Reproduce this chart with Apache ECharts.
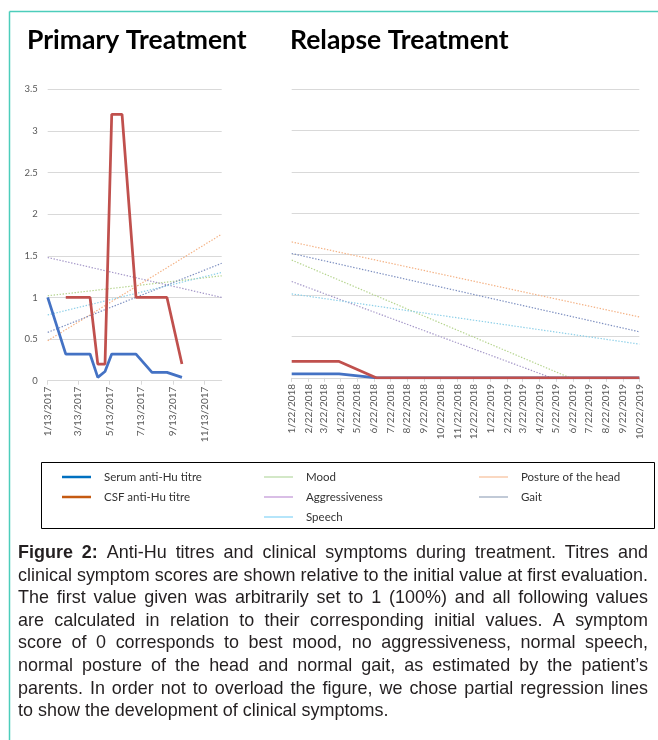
<!DOCTYPE html>
<html>
<head>
<meta charset="utf-8">
<title>Anti-Hu titres and clinical symptoms</title>
<script src="https://cdn.jsdelivr.net/npm/echarts@6/dist/echarts.min.js"></script>
<style>
  html, body { margin: 0; padding: 0; background: #fff; }
  #chart { width: 658px; height: 740px; }
</style>
</head>
<body>
<div id="chart"></div>
<script>
// ---- data ----
var primaryRange = ['1/13/2017', '12/16/2017'];
var primaryTicks = ['1/13/2017', '3/13/2017', '5/13/2017', '7/13/2017', '9/13/2017', '11/13/2017'];
var relapseRange = ['1/22/2018', '10/22/2019'];
var relapseTicks = ['1/22/2018', '2/22/2018', '3/22/2018', '4/22/2018', '5/22/2018', '6/22/2018',
    '7/22/2018', '8/22/2018', '9/22/2018', '10/22/2018', '11/22/2018', '12/22/2018',
    '1/22/2019', '2/22/2019', '3/22/2019', '4/22/2019', '5/22/2019', '6/22/2019',
    '7/22/2019', '8/22/2019', '9/22/2019', '10/22/2019'];

var serumPrimaryDates = ['1/13/2017', '2/17/2017', '4/5/2017', '4/20/2017', '5/4/2017', '5/17/2017', '7/3/2017', '8/3/2017', '9/1/2017', '9/30/2017'];
var serumPrimary = [1, 0.32, 0.32, 0.04, 0.11, 0.32, 0.32, 0.1, 0.1, 0.04];
var csfPrimaryDates = ['2/17/2017', '4/5/2017', '4/20/2017', '5/4/2017', '5/17/2017', '6/6/2017', '7/3/2017', '9/1/2017', '9/30/2017'];
var csfPrimary = [1, 1, 0.2, 0.2, 3.2, 3.2, 1, 1, 0.2];

var serumRelapseDates = ['1/22/2018', '4/19/2018', '6/27/2018', '10/22/2019'];
var serumRelapse = [0.05, 0.05, 0, 0];
var csfRelapseDates = ['1/22/2018', '4/19/2018', '6/27/2018', '10/22/2019'];
var csfRelapse = [0.2, 0.2, 0, 0];

// regression lines: Mood, Aggressiveness, Speech, Posture of the head, Gait
var symptoms = ['Mood', 'Aggressiveness', 'Speech', 'Posture of the head', 'Gait'];
var trendPrimaryStart = [1.02, 1.48, 0.79, 0.48, 0.58];
var trendPrimaryEnd = [1.26, 1.0, 1.3, 1.76, 1.41];
var trendRelapseStart = [1.43, 1.17, 1.02, 1.65, 1.51];
var trendRelapseEnd = [0, 0, 0.41, 0.74, 0.56];
var trendRelapseEndDates = ['6/17/2019', '5/14/2019', '10/22/2019', '10/22/2019', '10/22/2019'];

var yTicks = { min: 0, max: 3.5, interval: 0.5 };

var captionLines = [
    'Figure 2: Anti-Hu titres and clinical symptoms during treatment. Titres and',
    'clinical symptom scores are shown relative to the initial value at first evaluation.',
    'The first value given was arbitrarily set to 1 (100%) and all following values',
    'are calculated in relation to their corresponding initial values. A symptom',
    'score of 0 corresponds to best mood, no aggressiveness, normal speech,',
    'normal posture of the head and normal gait, as estimated by the patient\u2019s',
    'parents. In order not to overload the figure, we chose partial regression lines',
    'to show the development of clinical symptoms.'
];

// ---- styles ----
var titreColors = ['#4472C4', '#C0504D'];
var trendColors = ['#B5D48E', '#A497C8', '#8CCFE8', '#F4B183', '#7D8FC0'];
var legendTitre = ['#0070C0', '#C55A11'];
var legendTrend = ['#C5E0B4', '#CDA9DE', '#9DDCF9', '#F8CBAD', '#ADB9CA'];
var gridColor = '#d9d9d9';
var labelColor = '#595959';

function toDay(s) {
    var p = s.split('/');
    return Date.UTC(+p[2], p[0] - 1, +p[1]) / 864e5;
}
function dayLabel(v) {
    var d = new Date(Math.round(v) * 864e5);
    return (d.getUTCMonth() + 1) + '/' + d.getUTCDate() + '/' + d.getUTCFullYear();
}
function pairs(dates, vals) {
    return dates.map(function (d, i) { return [toDay(d), vals[i]]; });
}

function xAxisFor(idx, range, ticks) {
    var tv = ticks.map(toDay);
    return {
        type: 'value', gridIndex: idx,
        min: toDay(range[0]), max: toDay(range[1]),
        splitLine: { show: false },
        axisLine: { lineStyle: { color: gridColor, width: 1 } },
        axisTick: { customValues: tv, length: 4, lineStyle: { color: gridColor } },
        axisLabel: {
            customValues: tv, rotate: 90, margin: 6,
            fontFamily: 'Lato', fontSize: 10, color: labelColor,
            formatter: dayLabel
        }
    };
}
function yAxisFor(idx, showLabels) {
    return {
        type: 'value', gridIndex: idx,
        min: yTicks.min, max: yTicks.max, interval: yTicks.interval,
        axisLine: { show: false }, axisTick: { show: false },
        splitLine: { lineStyle: { color: gridColor, width: 1 } },
        axisLabel: { show: showLabels, margin: 10, fontFamily: 'Lato', fontSize: 9.5, color: labelColor }
    };
}

var series = [];
function titre(name, idx, data, color) {
    series.push({
        name: name, type: 'line', xAxisIndex: idx, yAxisIndex: idx,
        data: data, symbol: 'none', silent: true, z: 4,
        itemStyle: { color: color },
        lineStyle: { color: color, width: 2.75 }
    });
}
function trend(name, idx, data, color) {
    series.push({
        name: name, type: 'line', xAxisIndex: idx, yAxisIndex: idx,
        data: data, symbol: 'none', silent: true, z: 2,
        itemStyle: { color: color },
        lineStyle: { color: color, width: 1.2, type: [1.4, 1.6] }
    });
}

titre('Serum anti-Hu titre', 0, pairs(serumPrimaryDates, serumPrimary), titreColors[0]);
titre('CSF anti-Hu titre', 0, pairs(csfPrimaryDates, csfPrimary), titreColors[1]);
titre('Serum anti-Hu titre', 1, pairs(serumRelapseDates, serumRelapse), titreColors[0]);
titre('CSF anti-Hu titre', 1, pairs(csfRelapseDates, csfRelapse), titreColors[1]);
symptoms.forEach(function (s, i) {
    trend(s, 0, pairs(primaryRange, [trendPrimaryStart[i], trendPrimaryEnd[i]]), trendColors[i]);
    trend(s, 1, pairs([relapseRange[0], trendRelapseEndDates[i]], [trendRelapseStart[i], trendRelapseEnd[i]]), trendColors[i]);
});

function legendCol(left, names, colors, h) {
    return {
        orient: 'vertical', left: left, top: 465,
        itemWidth: 29, itemHeight: h, itemGap: 6, icon: 'rect',
        selectedMode: false,
        textStyle: { fontFamily: 'Lato', fontSize: 11.5, color: '#333', lineHeight: 14, padding: [0, 0, 0, 8] },
        data: names.map(function (n, i) { return { name: n, itemStyle: { color: colors[i] } }; })
    };
}

// ---- caption, justified word by word ----
var capFont = '"Liberation Sans Narrow", "Liberation Sans", Arial, sans-serif';
var capSize = 18.5, capLeft = 18, capWidth = 630, capTop = 553, capStep = 22.6;
var ctx = document.createElement('canvas').getContext('2d');
function measure(t, bold) {
    ctx.font = (bold ? 'bold ' : '') + capSize + 'px ' + capFont;
    return ctx.measureText(t).width;
}
var capScale = capWidth / measure(captionLines[1], false);
var captionGraphics = [];
captionLines.forEach(function (line, li) {
    var words = line.split(' ');
    var bolds = words.map(function (w, i) { return li === 0 && i < 2; });
    var widths = words.map(function (w, i) { return measure(w, bolds[i]) * capScale; });
    var total = widths.reduce(function (a, b) { return a + b; }, 0);
    var last = li === captionLines.length - 1;
    var gap = last ? measure(' ', false) * capScale : (capWidth - total) / (words.length - 1);
    var x = capLeft;
    words.forEach(function (w, i) {
        captionGraphics.push({
            type: 'text', x: x, y: capTop + li * capStep, scaleX: capScale, silent: true,
            style: {
                text: w, fill: '#231f20', fontFamily: capFont, fontSize: capSize,
                fontWeight: bolds[i] ? 'bold' : 'normal', verticalAlign: 'middle'
            }
        });
        x += widths[i] + gap;
    });
});

var chart = echarts.init(document.getElementById('chart'), null, { renderer: 'canvas' });
chart.setOption({
    backgroundColor: '#fff',
    animation: false,
    grid: [
        { left: 47.7, top: 89.3, width: 174, height: 291.4 },
        { left: 291.7, top: 89.5, width: 347.6, height: 288.4 }
    ],
    xAxis: [xAxisFor(0, primaryRange, primaryTicks), xAxisFor(1, relapseRange, relapseTicks)],
    yAxis: [yAxisFor(0, true), yAxisFor(1, false)],
    legend: [
        legendCol(57, ['Serum anti-Hu titre', 'CSF anti-Hu titre'], legendTitre, 2.5),
        legendCol(259, ['Mood', 'Aggressiveness', 'Speech'], legendTrend.slice(0, 3), 1.5),
        legendCol(474, ['Posture of the head', 'Gait'], legendTrend.slice(3), 1.5)
    ],
    graphic: [
        { type: 'line', silent: true, shape: { x1: 9.5, y1: 11.5, x2: 658, y2: 11.5 }, style: { stroke: '#4CCDBB', lineWidth: 1.5 } },
        { type: 'line', silent: true, shape: { x1: 9.5, y1: 11.5, x2: 9.5, y2: 740 }, style: { stroke: '#4CCDBB', lineWidth: 1.5 } },
        { type: 'text', x: 27, y: 40, silent: true, style: { text: 'Primary Treatment', fontFamily: 'Lato', fontWeight: 'bold', fontSize: 26.5, fill: '#000', verticalAlign: 'middle' } },
        { type: 'text', x: 290, y: 40, silent: true, style: { text: 'Relapse Treatment', fontFamily: 'Lato', fontWeight: 'bold', fontSize: 26.5, fill: '#000', verticalAlign: 'middle' } },
        { type: 'rect', silent: true, shape: { x: 41.5, y: 462.5, width: 613, height: 66 }, style: { fill: 'none', stroke: '#000', lineWidth: 1 } }
    ].concat(captionGraphics),
    series: series
});
</script>
</body>
</html>
